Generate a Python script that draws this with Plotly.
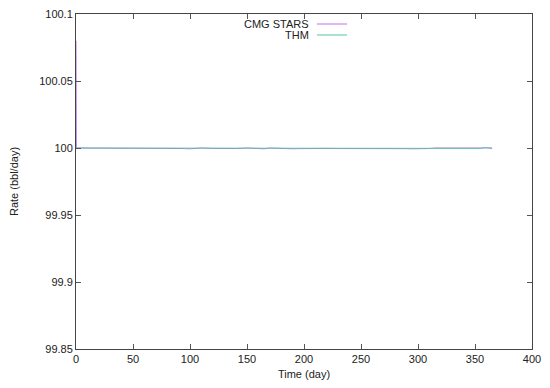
import plotly.graph_objects as go

# Data
time_days = [0, 0.3, 1, 5, 10, 20, 30, 40, 50, 60, 70, 80, 90, 95, 100, 105, 110, 120, 130, 135, 140,
             150, 160, 165, 170, 180, 185, 190, 195, 200, 210, 220, 230, 240, 250, 260, 270, 280, 290,
             295, 300, 305, 310, 315, 320, 330, 340, 350, 355, 358, 360, 363, 365]
cmg_rate = [100.08, 100.0, 100.0, 100.0, 100.0, 100.0, 100.0, 100.0, 99.9998, 100.0, 100.0, 100.0, 100.0,
            99.9996, 99.9994, 99.9996, 100.0, 99.9997, 99.9994, 99.9993, 99.9996,
            100.0, 99.9996, 99.9994, 100.0, 99.9995, 99.9994, 99.9994, 99.9995, 99.9996, 100.0, 99.9997,
            99.9996, 99.9996, 100.0, 100.0, 100.0, 100.0, 99.9995,
            99.9994, 99.9993, 99.9994, 99.9996, 100.0, 100.0, 99.9997, 99.9997, 100.0, 99.9996, 100.0,
            100.0002, 100.0, 99.9997]
thm_rate = [100.0, 100.0, 100.0, 100.0, 100.0, 100.0, 100.0, 100.0, 100.0, 100.0, 100.0, 100.0, 100.0,
            100.0, 100.0, 100.0, 100.0, 100.0, 100.0, 100.0, 100.0,
            100.0, 100.0, 100.0, 100.0, 100.0, 100.0, 100.0, 100.0, 100.0, 100.0, 100.0,
            100.0, 100.0, 100.0, 100.0, 100.0, 100.0, 100.0,
            100.0, 99.9998, 100.0, 99.9997, 100.0, 100.0, 100.0, 100.0, 100.0, 99.9997, 100.0003,
            100.0, 100.0002, 100.0]

series_names = ["CMG STARS", "THM"]
series_colors = ["#c070ee", "#50c8a0"]

x_ticks = [0, 50, 100, 150, 200, 250, 300, 350, 400]
y_ticks = [99.85, 99.9, 99.95, 100, 100.05, 100.1]
y_tick_labels = ["99.85", "99.9", "99.95", "100", "100.05", "100.1"]

fig = go.Figure()
fig.add_trace(go.Scatter(x=time_days, y=cmg_rate, mode="lines", name=series_names[0],
                         line=dict(color=series_colors[0], width=1), showlegend=False))
fig.add_trace(go.Scatter(x=time_days, y=thm_rate, mode="lines", name=series_names[1],
                         line=dict(color=series_colors[1], width=1), opacity=0.85,
                         showlegend=False))

font = dict(family="Liberation Sans, Arial, sans-serif", size=11, color="#222222")

# plot area in page pixels: x 76..532, y 14..349
PL, PW, PH = 76, 456, 335

# gnuplot-style key: text right-aligned, sample line to the right
key_rows = [1.0 - 10 / PH, 1.0 - 21 / PH]
for name, color, yy in zip(series_names, series_colors, key_rows):
    fig.add_annotation(x=(310 - PL) / PW, y=yy, xref="paper", yref="paper", text=name,
                       showarrow=False, xanchor="right", yanchor="middle", font=font,
                       borderpad=0)
    fig.add_shape(type="line", xref="paper", yref="paper", x0=(317 - PL) / PW,
                  x1=(347 - PL) / PW, y0=yy, y1=yy, line=dict(color=color, width=1))

# page body adds an 8px offset, so the figure is 8px smaller and margins shifted
fig.update_layout(
    width=542, height=380,
    margin=dict(l=68, r=18, t=6, b=39, autoexpand=False),
    paper_bgcolor="white", plot_bgcolor="white",
    font=font,
    xaxis=dict(range=[0, 400], tickvals=x_ticks, ticks="inside", ticklen=5, tickcolor="#555",
               showline=True, linecolor="#444", linewidth=1, mirror="ticks", showgrid=False,
               zeroline=False, automargin=False, ticklabeloverflow="allow",
               title=dict(text="Time (day)", font=font, standoff=6)),
    yaxis=dict(range=[99.85, 100.1], tickvals=y_ticks, ticktext=y_tick_labels, ticks="inside",
               ticklen=5, tickcolor="#555", showline=True, linecolor="#444", linewidth=1,
               mirror="ticks", showgrid=False, zeroline=False, automargin=False,
               ticklabeloverflow="allow",
               title=dict(text="Rate (bbl/day)", font=font, standoff=18)),
)

fig.write_html("out.html")
